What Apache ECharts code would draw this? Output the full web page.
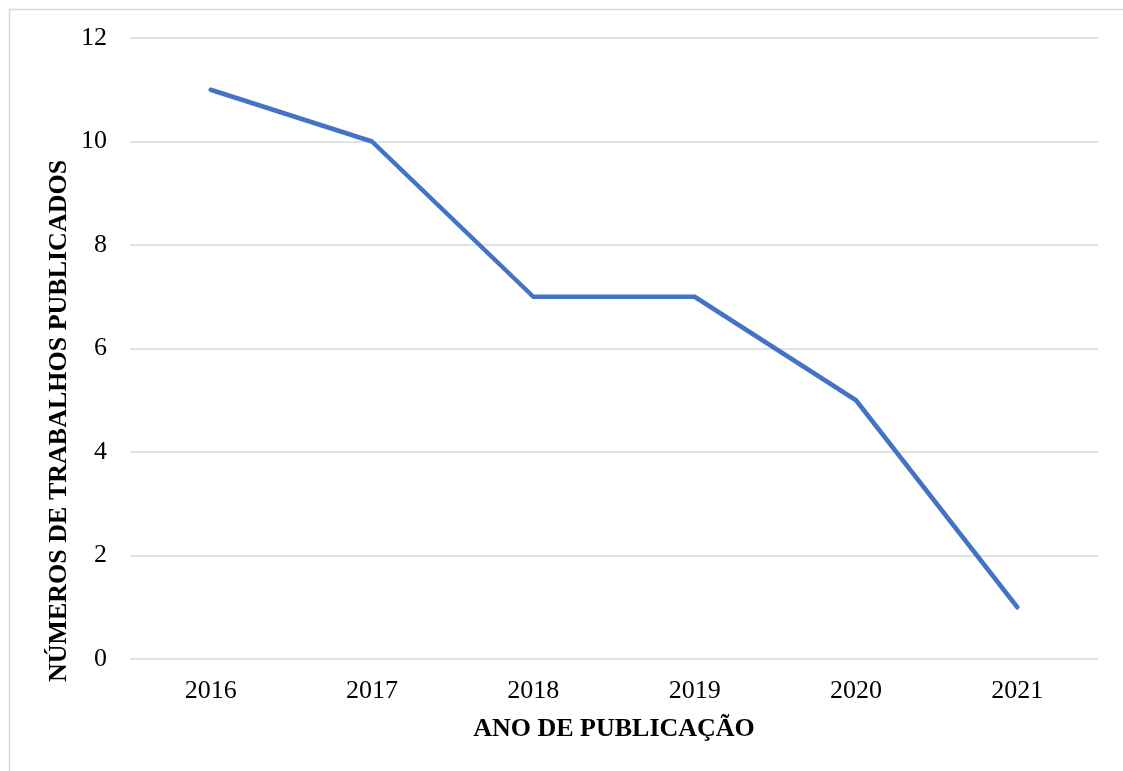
<!DOCTYPE html>
<html>
<head>
<meta charset="utf-8">
<script src="https://cdn.jsdelivr.net/npm/echarts@6/dist/echarts.min.js"></script>
<style>
  html, body { margin: 0; padding: 0; background: #fff; overflow: hidden; }
  #chart { width: 1123px; height: 771px; }
</style>
</head>
<body>
<div id="chart"></div>
<script>
const anos = ['2016', '2017', '2018', '2019', '2020', '2021'];
const trabalhos = [11, 10, 7, 7, 5, 1];
const tituloY = 'NÚMEROS DE TRABALHOS PUBLICADOS';
const tituloX = 'ANO DE PUBLICAÇÃO';

const fonte = '"Liberation Serif", "Times New Roman", serif';
const myChart = echarts.init(document.getElementById('chart'));

const option = {
  backgroundColor: '#fff',
  animation: false,
  graphic: [
    {
      // moldura (só topo e esquerda ficam visíveis)
      type: 'polyline',
      shape: { points: [[9.5, 800], [9.5, 9.5], [1200, 9.5]] },
      style: { fill: 'none', stroke: '#d9d9d9', lineWidth: 1.5 }
    },
    {
      type: 'text',
      x: 59,
      y: 421,
      rotation: Math.PI / 2,
      style: {
        text: tituloY,
        fontFamily: fonte,
        fontWeight: 'bold',
        fontSize: 26,
        fill: '#000',
        textAlign: 'center',
        textVerticalAlign: 'middle'
      }
    }
  ],
  grid: { left: 130, right: 25, top: 38, bottom: 112 },
  xAxis: {
    type: 'category',
    data: anos,
    boundaryGap: true,
    name: tituloX,
    nameLocation: 'middle',
    nameGap: 57,
    nameTextStyle: { fontFamily: fonte, fontWeight: 'bold', fontSize: 26, color: '#000' },
    axisLine: { show: false },
    axisTick: { show: false },
    axisLabel: { fontFamily: fonte, fontSize: 26, color: '#000', margin: 19 }
  },
  yAxis: {
    type: 'value',
    min: 0,
    max: 12,
    interval: 2,
    axisLine: { show: false },
    axisTick: { show: false },
    axisLabel: { fontFamily: fonte, fontSize: 26, color: '#000', margin: 23 },
    splitLine: { lineStyle: { color: '#d9d9d9', width: 1.5 } }
  },
  series: [{
    type: 'line',
    data: trabalhos,
    symbol: 'none',
    lineStyle: { color: '#4472c4', width: 4.5, cap: 'round', join: 'round' },
    itemStyle: { color: '#4472c4' }
  }]
};

myChart.setOption(option);
</script>
</body>
</html>
